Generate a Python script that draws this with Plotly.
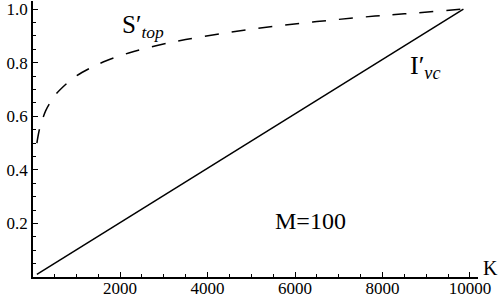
import plotly.graph_objects as go

# Data
K_top = [100, 150, 200, 300, 400, 500, 700, 1000, 1300, 1700, 2200, 2800,
         3500, 4500, 5500, 6500, 7500, 8500, 9850]
S_top = [0.50, 0.545, 0.575, 0.62, 0.65, 0.675, 0.71, 0.75, 0.778, 0.808,
         0.836, 0.862, 0.886, 0.913, 0.935, 0.953, 0.969, 0.982, 1.0]

K_vc = [100, 9850]
I_vc = [0.01, 1.0]

x_tick_step = 2000
y_tick_step = 0.2

FONT = "Liberation Serif"
TICKFONT = dict(family=FONT, size=17, color="black")

fig = go.Figure()
fig.add_trace(go.Scatter(x=K_top, y=S_top, mode="lines", line_shape="spline",
                         line=dict(color="black", width=1.5, dash="14px,13px"),
                         showlegend=False, hoverinfo="skip"))
fig.add_trace(go.Scatter(x=K_vc, y=I_vc, mode="lines",
                         line=dict(color="black", width=1.5),
                         showlegend=False, hoverinfo="skip"))

fig.update_layout(
    width=498, height=297,
    margin=dict(l=33, r=20, t=1, b=20, pad=0),
    paper_bgcolor="white", plot_bgcolor="white",
    font=dict(family=FONT, color="black", size=17),
)
fig.update_xaxes(
    range=[11.4, 10183], showgrid=False, zeroline=False, automargin=False,
    showline=True, linecolor="black", linewidth=1.5,
    tickmode="linear", tick0=0, dtick=x_tick_step, tickformat="d",
    ticks="inside", ticklen=5, tickwidth=1, tickcolor="black",
    tickfont=TICKFONT, ticklabeloverflow="allow", ticklabelstandoff=-5,
    minor=dict(tick0=0, dtick=500, ticks="inside", ticklen=3, tickwidth=1,
               tickcolor="black", showgrid=False),
)
fig.update_yaxes(
    range=[0.0005, 1.0299], showgrid=False, zeroline=False, automargin=False,
    showline=True, linecolor="black", linewidth=1.5,
    tickmode="linear", tick0=0, dtick=y_tick_step, tickformat=".1f",
    ticks="inside", ticklen=5, tickwidth=1, tickcolor="black",
    tickfont=TICKFONT, ticklabeloverflow="allow",
    minor=dict(tick0=0, dtick=0.05, ticks="inside", ticklen=3, tickwidth=1,
               tickcolor="black", showgrid=False),
)

fig.add_annotation(x=2000, y=0.935, xref="x", yref="y",
                   text="S′<sub><i>top</i></sub>", showarrow=False,
                   xanchor="left", yanchor="middle",
                   font=dict(family=FONT, size=25, color="black"))
fig.add_annotation(x=8583, y=0.783, xref="x", yref="y",
                   text="I′<sub><i>vc</i></sub>", showarrow=False,
                   xanchor="left", yanchor="middle",
                   font=dict(family=FONT, size=26, color="black"))
fig.add_annotation(x=6343, y=0.211, xref="x", yref="y",
                   text="M=100", showarrow=False,
                   xanchor="center", yanchor="middle",
                   font=dict(family=FONT, size=24, color="black"))
fig.add_annotation(x=1.027, y=0.0326, xref="paper", yref="paper",
                   text="K", showarrow=False,
                   xanchor="center", yanchor="middle",
                   font=dict(family=FONT, size=20, color="black"))

fig.write_html(
    "out.html",
    config={"displayModeBar": False},
    post_script="document.body.style.margin='0';document.body.style.padding='0';"
                "document.documentElement.style.overflow='hidden';",
)
